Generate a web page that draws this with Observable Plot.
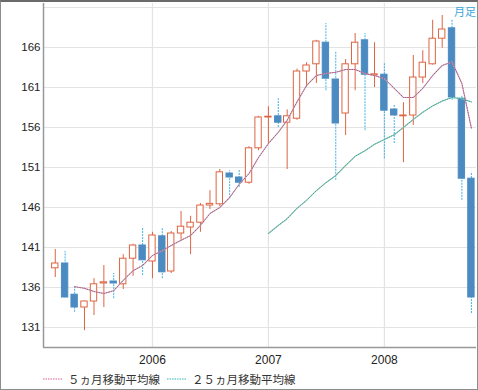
<!DOCTYPE html>
<html><head><meta charset="utf-8">
<script src="https://cdn.jsdelivr.net/npm/d3@7"></script>
<script src="https://cdn.jsdelivr.net/npm/@observablehq/plot@0.6"></script>
<style>
html,body{margin:0;padding:0;background:#fff;}
#frame{position:relative;width:478px;height:390px;box-sizing:border-box;border:1px solid #8c8c8c;border-top:2px solid #6a6a6a;background:#fff;overflow:hidden;}
#chart svg{display:block;}
#tag{position:absolute;right:1px;top:1px;font:11px "Noto Sans CJK JP";color:#3aa6dc;}
#legend{position:absolute;left:0;top:367px;width:476px;height:20px;font:11.5px "Noto Sans CJK JP";color:#333;}
#legend .item{position:absolute;top:0;display:flex;align-items:center;height:20px;}
#legend svg{margin-right:6px;}
</style></head>
<body>
<div id="frame">
  <div id="chart"></div>
  <div id="tag">月足</div>
  <div id="legend"></div>
</div>
<script>
const months = ["2005-03","2005-04","2005-05","2005-06","2005-07","2005-08","2005-09","2005-10","2005-11","2005-12",
  "2006-01","2006-02","2006-03","2006-04","2006-05","2006-06","2006-07","2006-08","2006-09","2006-10","2006-11","2006-12",
  "2007-01","2007-02","2007-03","2007-04","2007-05","2007-06","2007-07","2007-08","2007-09","2007-10","2007-11","2007-12",
  "2008-01","2008-02","2008-03","2008-04","2008-05","2008-06","2008-07","2008-08","2008-09","2008-10"];
const open = [138.4,139.0,135.1,133.5,134.25,136.5,136.75,136.4,139.6,141.25,139.25,142.4,138.0,142.75,143.5,144.1,146.25,146.4,150.25,149.75,149.1,153.4,157.25,157.4,156.6,157.1,163.0,163.9,166.6,162.0,157.75,163.9,166.9,162.5,162.6,158.25,157.4,157.5,162.25,163.9,167.1,168.4,159.6,149.6];
const high = [140.75,140.5,136.1,134.3,137.1,138.75,137.75,140.1,141.4,143.5,142.9,143.4,143.0,145.5,144.9,146.5,148.1,150.75,150.6,150.75,153.6,157.4,158.6,159.6,158.2,163.3,164.1,166.9,169.0,165.4,164.5,167.75,167.75,166.6,164.1,158.75,159.1,165.0,165.6,169.4,170.0,169.4,160.0,150.4];
const low = [137.25,134.7,132.9,130.6,132.5,133.5,134.6,135.75,137.4,137.5,137.1,137.1,137.75,141.9,140.1,142.9,145.75,146.1,147.1,148.5,148.9,153.1,154.0,156.0,150.75,156.9,161.0,161.5,160.6,149.4,155.0,160.6,155.6,161.0,152.1,154.0,151.6,156.25,161.5,163.8,165.9,159.4,146.9,132.75];
const close = [139.0,134.75,133.5,134.25,136.4,136.65,136.5,139.6,141.25,139.4,142.5,137.9,142.75,143.6,144.1,146.25,146.45,150.4,149.75,149.1,153.4,157.25,157.35,156.6,157.4,163.0,163.75,166.75,162.1,156.5,163.9,166.6,162.6,162.65,158.1,157.5,157.5,162.25,164.1,167.1,168.25,159.75,149.6,134.75];
const ma5 = [null,null,136.1,135.9,135.5,135.25,135.6,136.9,138.1,138.75,140.0,140.6,141.25,141.9,142.5,143.75,145.25,146.0,147.25,148.9,150.25,152.25,154.0,155.4,156.9,159.2,161.25,162.5,162.75,162.9,163.25,163.25,162.75,162.5,162.1,160.9,159.75,159.75,160.9,162.5,163.75,164.2,161.5,155.9];
const ma25 = [null,null,null,null,null,null,null,null,null,null,null,null,null,null,null,null,null,null,null,null,null,null,
  142.75,143.75,144.6,145.9,146.9,148.1,149.1,150.0,151.25,152.4,153.1,153.9,154.5,155.1,156.0,157.0,157.9,158.7,159.3,159.75,159.6,159.2];
const yTicks = [131,136,141,146,151,156,161,166];
const yGrid = [131,136,141,146,151,156,161,166,171];
const yearTicks = ["2006-01-01","2007-01-01","2008-01-01"];
const legendLabels = ["５ヵ月移動平均線","２５ヵ月移動平均線"];

const parse = s => { const [y,m,d] = s.split("-").map(Number); return new Date(Date.UTC(y, m-1, d||1)); };
const data = months.map((m,i) => ({date: parse(m), open: open[i], high: high[i], low: low[i], close: close[i], ma5: ma5[i], ma25: ma25[i]}));
const up = data.filter(d => d.close >= d.open);
const down = data.filter(d => d.close < d.open);
const years = yearTicks.map(parse);
const xDomain = [new Date(Date.UTC(2005,0,23)), new Date(Date.UTC(2008,9,17))];
const half = d => [d3.utcDay.offset(d.date,-10), d3.utcDay.offset(d.date,10)];

const UP = "#de6440", DOWN = "#4c8bc2", DOWNWICK = "#3fb3e3";

const chart = Plot.plot({
  width: 476, height: 366,
  marginLeft: 42, marginRight: 1, marginTop: 1, marginBottom: 21,
  style: {fontFamily: "Liberation Sans", fontSize: "11.5px", color: "#222", background: "#fff"},
  x: {type: "utc", domain: xDomain, label: null},
  y: {domain: [128.5, 171.5], label: null},
  marks: [
    Plot.gridY(yGrid, {stroke: "#e3e3e3", strokeOpacity: 1, strokeWidth: 1.2}),
    Plot.gridX(years, {stroke: "#e3e3e3", strokeOpacity: 1, strokeWidth: 1.2}),
    Plot.axisY(yTicks, {tickSize: 0, tickPadding: 3, fontSize: 11.5}),
    Plot.axisX(years, {tickSize: 0, tickPadding: 8, tickFormat: d3.utcFormat("%Y"), fontSize: 12}),
    Plot.ruleX(up, {x: "date", y1: "low", y2: "high", stroke: UP, strokeWidth: 1}),
    Plot.ruleX(down, {x: "date", y1: "low", y2: "high", stroke: DOWNWICK, strokeWidth: 1, strokeDasharray: "2,1"}),
    Plot.rect(up, {x1: d => half(d)[0], x2: d => half(d)[1], y1: "open", y2: "close", fill: "#fff", stroke: UP, strokeWidth: 1}),
    Plot.rect(down, {x1: d => half(d)[0], x2: d => half(d)[1], y1: "open", y2: "close", fill: DOWN, stroke: DOWN, strokeWidth: 1}),
    Plot.line(data.filter(d => d.ma25 != null), {x: "date", y: "ma25", stroke: "#bdbdbd", strokeWidth: 1.1}),
    Plot.line(data.filter(d => d.ma25 != null), {x: "date", y: "ma25", stroke: "#1fb89a", strokeWidth: 1, strokeDasharray: "1,1.5"}),
    Plot.line(data.filter(d => d.ma5 != null), {x: "date", y: "ma5", stroke: "#bbbbbb", strokeWidth: 1.1}),
    Plot.line(data.filter(d => d.ma5 != null), {x: "date", y: "ma5", stroke: "#c0508a", strokeWidth: 1, strokeDasharray: "1,1.5"}),
    Plot.ruleX([xDomain[0]], {stroke: "#999", strokeWidth: 1.5}),
    Plot.ruleY([128.5], {stroke: "#999", strokeWidth: 1.5})
  ]
});
document.getElementById("chart").appendChild(chart);

const legend = document.getElementById("legend");
const colors = ["#d8609a", "#2ab8b0"];
const lefts = [42, 166];
legendLabels.forEach((t,i) => {
  const it = document.createElement("div");
  it.className = "item";
  it.style.left = lefts[i] + "px";
  it.innerHTML = `<svg width="19" height="4"><line x1="0" y1="2" x2="19" y2="2" stroke="${colors[i]}" stroke-width="1" stroke-dasharray="1.5,1"/></svg><span>${t}</span>`;
  legend.appendChild(it);
});
</script>
</body></html>
